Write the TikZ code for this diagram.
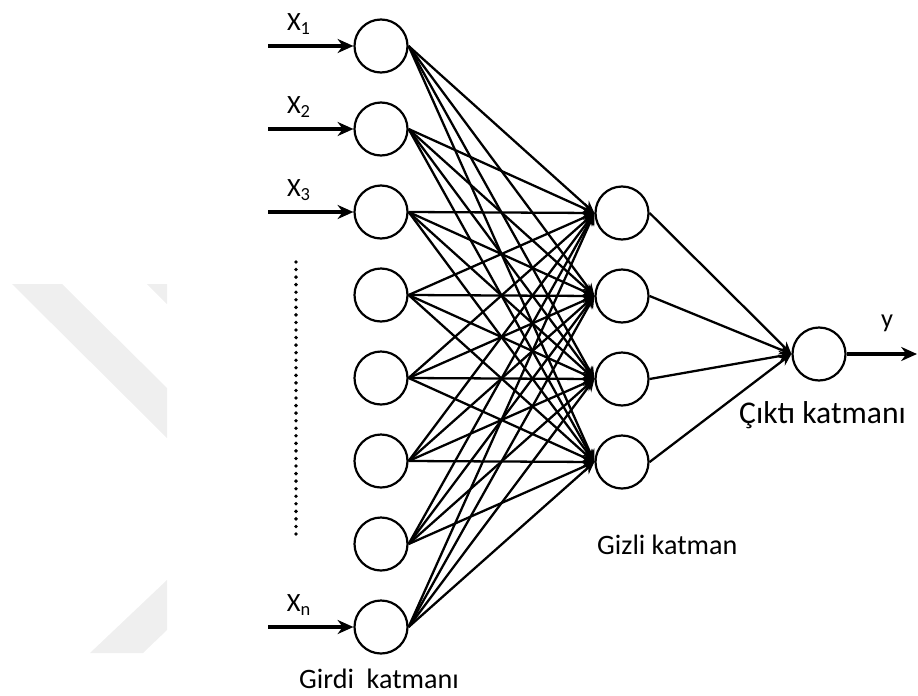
\documentclass[tikz,border=0pt]{standalone}
\usepackage{fontspec}
\setmainfont{Carlito}
\usetikzlibrary{arrows.meta}
\definecolor{bandgray}{RGB}{239,239,239}

\begin{document}
\begin{tikzpicture}[
    neuron/.style={draw, circle, line width=1.25pt, minimum size=1.06cm, inner sep=0pt},
    link/.style={line width=1.3pt, -{Stealth[length=7pt,width=6pt]}},
    feed/.style={line width=1.8pt, -{Stealth[length=9pt,width=8pt]}},
    lbl/.style={font=\fontsize{16}{18}\selectfont, anchor=west},
    sym/.style={font=\fontsize{15}{17}\selectfont}
]
    \useasboundingbox (0,0) rectangle (18.36,13.9);
    % faint bands in the back
    \fill[bandgray] (0.24,8.22) -- (1.24,8.22) -- (3.34,6.14) -- (3.34,5.14) -- cycle;
    \fill[bandgray] (2.94,8.22) -- (3.34,8.22) -- (3.34,7.82) -- cycle;
    \fill[bandgray] (1.8,0.84) -- (2.86,0.84) -- (3.34,1.3) -- (3.34,2.3) -- cycle;

    % input, hidden and output neurons
    \foreach \i in {1,...,8}
        \node[neuron] (in\i) at (7.62,14.64-1.66*\i) {};
    \foreach \j in {1,...,4}
        \node[neuron] (hid\j) at (12.44,11.3-1.66*\j) {};
    \node[neuron] (out) at (16.38,6.82) {};

    % weights between layers
    \foreach \i in {1,...,8}
        \foreach \j in {1,...,4}
            \draw[link] (in\i.east) -- (hid\j.west);
    \foreach \j in {1,...,4}
        \draw[link] (hid\j.east) -- (out.west);

    % inputs x1, x2, x3 and xn
    \foreach \i/\k in {1/1, 2/2, 3/3, 8/n} {
        \coordinate (x\i) at (5.36,14.64-1.66*\i);
        \draw[feed] (x\i) -- (in\i.west);
        \node[sym] (lx\i) at (5.98,15.08-1.66*\i) {X\textsubscript{\k}};
    }
    \draw[line width=2.2pt, line cap=round, dash pattern=on 0pt off 4.3pt] (5.92,8.66) -- (5.92,3.1);

    % output
    \coordinate (yend) at (18.34,6.82);
    \draw[feed] (out.east) -- (yend);
    \node[sym] (ly) at (17.74,7.44) {y};

    \node[lbl] (girdi) at (5.86,0.32) {Girdi\ \ katmanı};
    \node[lbl] (gizli) at (11.82,3.0) {Gizli katman};
    \node[lbl, font=\fontsize{18}{20}\selectfont] (cikti) at (14.66,5.6) {Çıktı katmanı};
\end{tikzpicture}
\end{document}
